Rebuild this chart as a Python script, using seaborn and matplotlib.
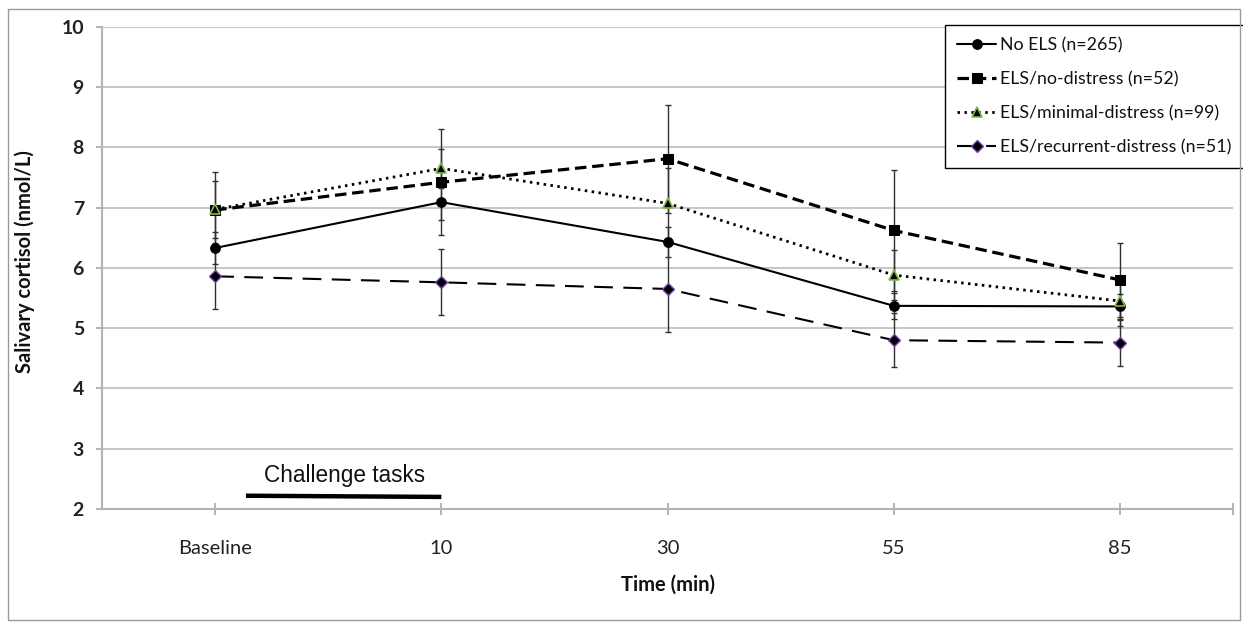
import matplotlib
matplotlib.use("Agg")
import matplotlib.pyplot as plt
import numpy as np
import pandas as pd
import seaborn as sns
from matplotlib.patches import Rectangle

# Sampling times and group labels
times = ["Baseline", "10", "30", "55", "85"]
groups = ["No ELS (n=265)", "ELS/no-distress (n=52)",
          "ELS/minimal-distress (n=99)", "ELS/recurrent-distress (n=51)"]

# Mean salivary cortisol (nmol/L) per group and its standard error
no_els = [6.33, 7.09, 6.43, 5.37, 5.36]
no_els_se = [0.27, 0.30, 0.25, 0.22, 0.21]
no_distress = [6.96, 7.42, 7.81, 6.62, 5.80]
no_distress_se = [0.63, 0.88, 0.90, 1.00, 0.62]
minimal = [6.97, 7.65, 7.07, 5.88, 5.45]
minimal_se = [0.47, 0.33, 0.58, 0.42, 0.42]
recurrent = [5.86, 5.76, 5.65, 4.80, 4.76]
recurrent_se = [0.55, 0.55, 0.72, 0.45, 0.38]

means = [no_els, no_distress, minimal, recurrent]
errors = [no_els_se, no_distress_se, minimal_se, recurrent_se]

pos = np.arange(len(times))
df = pd.concat([
    pd.DataFrame({"pos": pos, "time": times, "cortisol": m, "se": e, "group": g})
    for g, m, e in zip(groups, means, errors)
], ignore_index=True)

styles = {
    groups[0]: dict(linestyle="-", linewidth=1.5, marker="o", markersize=7,
                    markerfacecolor="black", markeredgecolor="black"),
    groups[1]: dict(linestyle=(0, (3.6, 1.8)), linewidth=2.3, marker="s", markersize=6.5,
                    markerfacecolor="black", markeredgecolor="black"),
    groups[2]: dict(linestyle=(0, (0.9, 1.6)), linewidth=2.0, marker="^", markersize=7.5,
                    markerfacecolor="black", markeredgecolor="#7fb845", markeredgewidth=1.2),
    groups[3]: dict(linestyle=(0, (9, 5)), linewidth=1.5, marker="D", markersize=6,
                    markerfacecolor="black", markeredgecolor="#7a3fb0", markeredgewidth=1.0),
}

sns.set_style("white")
plt.rcParams["font.family"] = ["Lato", "DejaVu Sans"]

fig = plt.figure(figsize=(12.43, 6.22), dpi=100)
ax = fig.add_axes([0.0821, 0.1817, 0.9099, 0.7753])

for g in groups:
    sub = df[df["group"] == g]
    ax.errorbar(sub["pos"], sub["cortisol"], yerr=sub["se"], fmt="none",
                ecolor="#303030", elinewidth=1.0, capsize=2.3, capthick=1.0, zorder=2)
for g in groups:
    sub = df[df["group"] == g]
    sns.lineplot(data=sub, x="pos", y="cortisol", color="black", label=g,
                 errorbar=None, ax=ax, zorder=3, **styles[g])

# Challenge task period marker
ax.plot([0.136, 1.0], [2.22, 2.20], color="black", linewidth=3.2, solid_capstyle="butt", zorder=3)
ax.text(0.57, 2.56, "Challenge tasks", ha="center", va="center",
        fontsize=16.3, family=["Liberation Sans", "DejaVu Sans"], color="#111111")

ax.set_xlim(-0.5, 4.5)
ax.set_ylim(2, 10)
ax.set_xticks(pos)
ax.set_xticklabels(times)
ax.set_xticks([4.5], minor=True)
ax.set_yticks(range(2, 11))
ax.grid(axis="y", color="#c8c8c8", linewidth=1.5)
ax.grid(axis="x", visible=False)
ax.set_axisbelow(True)

for side in ["top", "right"]:
    ax.spines[side].set_visible(False)
for side in ["left", "bottom"]:
    ax.spines[side].set_color("#b4b4b4")
    ax.spines[side].set_linewidth(1.5)

ax.tick_params(axis="x", which="both", direction="inout", length=8, width=1.2,
               color="#a8a8a8", labelsize=14.5, labelcolor="#222222", pad=18, bottom=True)
ax.tick_params(axis="y", direction="out", length=4, width=1.2, color="#a8a8a8",
               labelsize=14, labelcolor="#222222", pad=9, left=True)
for lab in ax.get_yticklabels():
    lab.set_fontweight("bold")

ax.set_xlabel("Time (min)", fontsize=14.5, fontweight="bold", color="#111111", labelpad=13)
ax.set_ylabel("Salivary cortisol (nmol/L)", fontsize=14.5, fontweight="bold",
              color="#111111", labelpad=22)
ax.yaxis.set_label_coords(-0.059, 0.513)

handles, labels = ax.get_legend_handles_labels()
leg = ax.legend(handles, labels, loc="upper left", bbox_to_anchor=(0.760, 0.960),
                bbox_transform=fig.transFigure, fontsize=12.8, frameon=True, fancybox=False,
                edgecolor="black", framealpha=1, borderpad=0.7, labelspacing=1.0,
                handlelength=2.2, handletextpad=0.2, borderaxespad=0)
leg.get_frame().set_linewidth(1.0)
for t in leg.get_texts():
    t.set_color("#111111")

# Outer chart frame
fig.patches.append(Rectangle((0.0064, 0.0032), 0.9912, 0.9823, transform=fig.transFigure,
                             fill=False, edgecolor="#9a9a9a", linewidth=1.0))

fig.savefig("out.png", dpi=100, facecolor="white")
